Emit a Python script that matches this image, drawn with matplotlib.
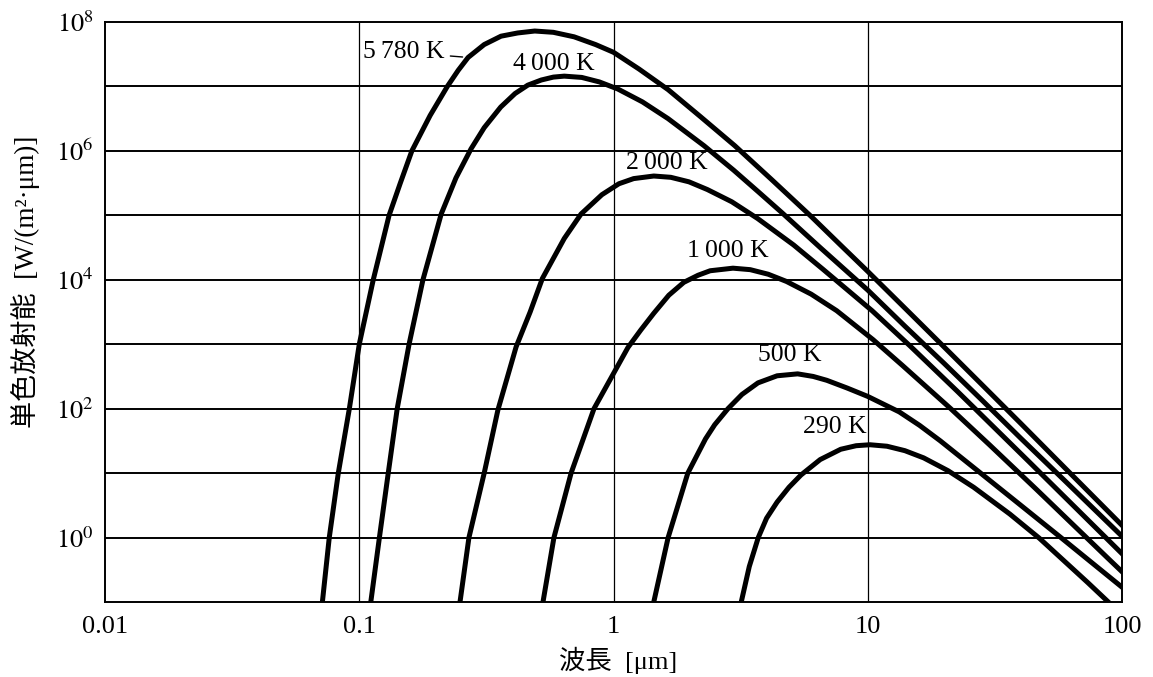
import numpy as np
import matplotlib.pyplot as plt

plt.rcParams['font.family'] = ['Liberation Serif', 'Noto Sans CJK JP']
plt.rcParams['mathtext.fontset'] = 'stix'

# ========= Data =========
# wavelength [um] and log10 of monochromatic emissive power [W/(m2 um)]
lam_5780 = [0.0716, 0.0762, 0.0827, 0.0914, 0.100, 0.1135, 0.131, 0.145, 0.161, 0.19, 0.222, 0.245,
            0.268, 0.31, 0.361, 0.42, 0.49, 0.58, 0.70, 0.85, 1.0, 1.26, 1.64, 2.2, 3.0, 4.2,
            6.0, 8.0, 10, 14, 19.7, 28, 40, 60, 100]
loge_5780 = [-1.0, 0.0, 1.0, 2.0, 3.0, 4.0, 5.0, 5.5, 6.0, 6.55, 7.0, 7.25,
             7.45, 7.65, 7.78, 7.83, 7.86, 7.84, 7.77, 7.65, 7.53, 7.27, 6.95, 6.53, 6.08, 5.55,
             4.98, 4.5, 4.13, 3.56, 2.98, 2.38, 1.77, 1.07, 0.19]

lam_4000 = [0.111, 0.120, 0.130, 0.141, 0.157, 0.178, 0.21, 0.24, 0.275, 0.31, 0.36, 0.41,
            0.46, 0.52, 0.58, 0.64, 0.75, 0.88, 1.04, 1.3, 1.64, 2.27, 2.97, 3.7, 4.6,
            6.5, 10, 14, 20, 28, 40, 60, 100]
loge_4000 = [-1.0, 0.0, 1.0, 2.0, 3.0, 4.0, 5.02, 5.58, 6.03, 6.36, 6.68, 6.89,
             7.02, 7.10, 7.145, 7.16, 7.14, 7.07, 6.96, 6.76, 6.5, 6.08, 5.7, 5.37, 5.04,
             4.5, 3.84, 3.28, 2.7, 2.14, 1.54, 0.87, 0.02]

lam_2000 = [0.249, 0.270, 0.310, 0.351, 0.414, 0.47, 0.525, 0.64, 0.745, 0.9, 1.05, 1.2, 1.44,
            1.68, 1.98, 2.34, 2.92, 3.69, 5.11, 6.68, 10.4, 14.7, 22.5, 43, 100]
loge_2000 = [-1.0, 0.0, 1.0, 1.98, 2.96, 3.5, 4.02, 4.64, 5.02, 5.32, 5.49, 5.57, 5.61,
             5.59, 5.52, 5.40, 5.21, 4.95, 4.54, 4.16, 3.52, 2.97, 2.27, 1.18, -0.25]

lam_1000 = [0.528, 0.583, 0.681, 0.838, 1.14, 1.28, 1.44, 1.65, 1.89, 2.15, 2.4, 2.95,
            3.45, 4.06, 4.79, 5.99, 7.55, 10.5, 13.7, 21.2, 30.1, 46, 88.5, 100]
loge_1000 = [-1.0, 0.0, 1.0, 2.0, 2.95, 3.22, 3.48, 3.76, 3.96, 4.07, 4.14, 4.18,
             4.157, 4.086, 3.974, 3.777, 3.52, 3.07, 2.67, 2.0, 1.44, 0.75, -0.33, -0.53]

lam_500 = [1.44, 1.64, 1.96, 2.3, 2.5, 2.82, 3.2, 3.7, 4.4, 5.3, 6.1, 6.9, 8.3, 10,
           13.3, 16, 19.3, 28.2, 40, 57.5, 75, 100]
loge_500 = [-1.0, 0.0, 1.0, 1.53, 1.75, 2.0, 2.22, 2.40, 2.51, 2.54, 2.5, 2.44, 2.32, 2.19,
            1.95, 1.74, 1.5, 0.98, 0.5, 0.0, -0.37, -0.77]

lam_290 = [3.18, 3.42, 3.71, 4.0, 4.4, 4.9, 5.46, 6.5, 7.83, 9.0, 10.2, 11.9, 14.0, 16.6,
           20.7, 26.1, 36.2, 47.3, 73.4, 90]
loge_290 = [-1.0, -0.45, 0.0, 0.3, 0.55, 0.78, 0.97, 1.21, 1.37, 1.425, 1.44, 1.417, 1.348, 1.236,
            1.037, 0.78, 0.365, -0.01, -0.70, -1.03]

curves = [(lam_5780, loge_5780), (lam_4000, loge_4000), (lam_2000, loge_2000),
          (lam_1000, loge_1000), (lam_500, loge_500), (lam_290, loge_290)]

curve_labels = ['5\u2009780 K', '4\u2009000 K', '2\u2009000 K', '1\u2009000 K', '500 K', '290 K']
label_xy = [(0.150, 10**7.53), (0.583, 10**7.35), (1.62, 10**5.81),
            (2.82, 10**4.44), (4.93, 10**2.84), (7.43, 10**1.71)]

x_ticks = [0.01, 0.1, 1, 10, 100]
x_ticklabels = ['0.01', '0.1', '1', '10', '100']
y_ticks = [10.0**k for k in range(0, 9)]
y_ticklabels = ['$10^{%d}$' % k if k % 2 == 0 else '' for k in range(0, 9)]

# ========= Plot =========
fig = plt.figure(figsize=(11.53, 6.77), dpi=100)
ax = fig.add_axes([0.0911, 0.1108, 0.8820, 0.8567])
ax.set_xscale('log')
ax.set_yscale('log')
ax.set_xlim(0.01, 100)
ax.set_ylim(0.1, 1e8)

for lam, loge in curves:
    ax.plot(lam, np.power(10.0, loge), color='black', lw=3.6, solid_joinstyle='round', zorder=3)

for i, (txt, xy) in enumerate(zip(curve_labels, label_xy)):
    if i == 0:
        ax.annotate(txt, xy=(0.268, 10**7.45), xytext=xy, ha='center', va='center', fontsize=18.5,
                    arrowprops=dict(arrowstyle='-', lw=1.0, color='black', shrinkA=2, shrinkB=4))
    else:
        ax.text(xy[0], xy[1], txt, ha='center', va='center', fontsize=18.5)

# grid: every decade horizontally, 0.1/1/10 vertically
for k in range(0, 8):
    ax.axhline(10.0**k, color='black', lw=1.4, zorder=1)
for v in [0.1, 1, 10]:
    ax.axvline(v, color='black', lw=0.9, zorder=1)

ax.set_xticks(x_ticks)
ax.set_xticklabels(x_ticklabels)
ax.set_yticks(y_ticks)
ax.set_yticklabels(y_ticklabels)
ax.minorticks_off()
ax.tick_params(axis='both', length=0, labelsize=19)
ax.tick_params(axis='x', pad=10)
ax.tick_params(axis='y', pad=8)
for s in ax.spines.values():
    s.set_linewidth(1.4)

fig.text(618 / 1153, 1 - 660 / 677, '波長  [μm]', ha='center', va='center', fontsize=19)
fig.text(26 / 1153, 1 - 282 / 677, '単色放射能  [W/(m²·μm)]', ha='center', va='center',
         rotation=90, fontsize=19.5)

fig.savefig('out.png', dpi=100)
